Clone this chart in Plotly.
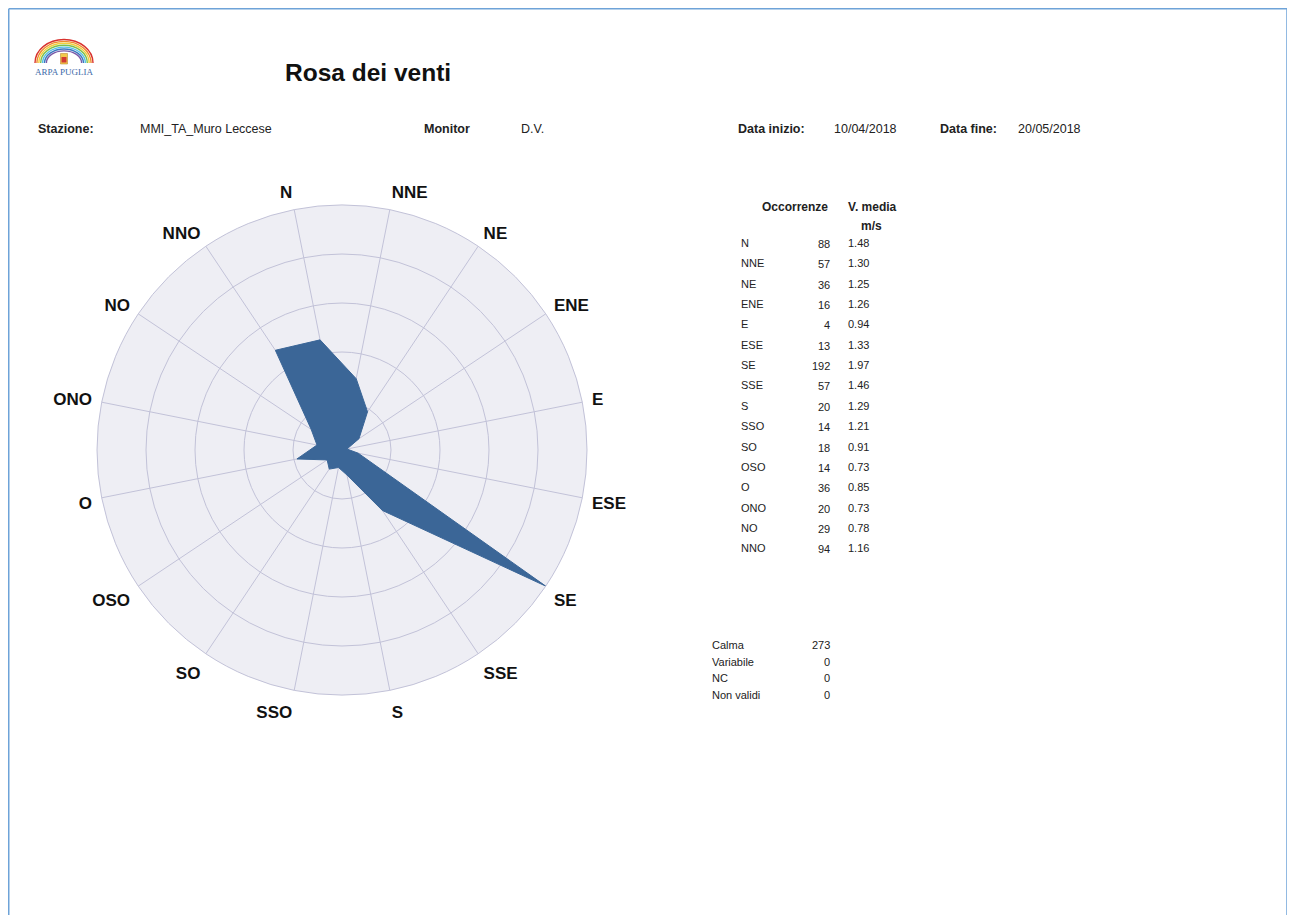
import plotly.graph_objects as go

# figure sits inside the page body (8px default margin)
OFF = 8
W, H = 1287, 907

directions = ["N", "NNE", "NE", "ENE", "E", "ESE", "SE", "SSE",
              "S", "SSO", "SO", "OSO", "O", "ONO", "NO", "NNO"]
occorrenze = [88, 57, 36, 16, 4, 13, 192, 57, 20, 14, 18, 14, 36, 20, 29, 94]
v_media = ["1.48", "1.30", "1.25", "1.26", "0.94", "1.33", "1.97", "1.46",
           "1.29", "1.21", "0.91", "0.73", "0.85", "0.73", "0.78", "1.16"]

extra_labels = ["Calma", "Variabile", "NC", "Non validi"]
extra_values = [273, 0, 0, 0]

header_fields = [("Stazione:", 38, True), ("MMI_TA_Muro Leccese", 140, False),
                 ("Monitor", 424, True), ("D.V.", 521, False),
                 ("Data inizio:", 738, True), ("10/04/2018", 834, False),
                 ("Data fine:", 940, True), ("20/05/2018", 1018, False)]

FONT = "Liberation Sans, Arial, Helvetica, sans-serif"
FILL = "#3b6697"
GRID = "#c2c2d8"
PAD = 2  # annotation inner padding


def px(x):
    return (x - OFF) / W


def py(y):
    return 1 - (y - OFF) / H


fig = go.Figure()

r_vals = occorrenze + occorrenze[:1]
t_vals = directions + directions[:1]
fig.add_trace(go.Scatterpolar(
    r=r_vals, theta=t_vals, mode="lines", fill="toself",
    fillcolor=FILL, line=dict(color=FILL, width=1),
    hoverinfo="skip", showlegend=False))

cx, cy, R = 342, 450, 245
rmax = max(occorrenze)
fig.update_layout(
    width=W, height=H,
    margin=dict(l=0, r=0, t=0, b=0),
    paper_bgcolor="white",
    font=dict(family=FONT, color="#111"),
    polar=dict(
        domain=dict(x=[px(cx - R), px(cx + R)], y=[py(cy + R), py(cy - R)]),
        bgcolor="#eeeef4",
        angularaxis=dict(
            type="category", categoryorder="array", categoryarray=directions,
            direction="clockwise", rotation=101.25,
            showline=True, linecolor=GRID, linewidth=1,
            gridcolor=GRID, gridwidth=1,
            ticks="outside", ticklen=6, tickcolor="rgba(0,0,0,0)",
            tickfont=dict(family=FONT, size=17, color="#111", weight="bold"),
        ),
        radialaxis=dict(
            range=[0, rmax], tickvals=[rmax * k / 5 for k in range(1, 6)],
            showticklabels=False, showline=False, ticks="",
            gridcolor=GRID, gridwidth=1,
        ),
    ),
)

shapes = []
# page border (left, top, right)
border = "#6ea3d8"
shapes.append(dict(type="line", xref="paper", yref="paper", x0=px(8.75), x1=px(8.75), y0=py(8.75), y1=py(930),
                   line=dict(color=border, width=1.5)))
shapes.append(dict(type="line", xref="paper", yref="paper", x0=px(8.75), x1=px(1287), y0=py(8.75), y1=py(8.75),
                   line=dict(color=border, width=1.5)))
shapes.append(dict(type="line", xref="paper", yref="paper", x0=px(1287), x1=px(1287), y0=py(8.75), y1=py(930),
                   line=dict(color=border, width=1.5)))

# logo rainbow (half ellipses built from bezier quarter arcs)
lcx, lcy = 64, 63
rainbow = ["#d8322e", "#ee8a2e", "#f2cf3c", "#7cbf4c", "#55c0e6", "#3a78c0", "#7a5aa8"]
k = 0.5523
for i, col in enumerate(rainbow):
    rx = 29 - i * 1.9
    ry = 23.5 - i * 1.9
    p = (f"M {px(lcx - rx)} {py(lcy)} "
         f"C {px(lcx - rx)} {py(lcy - k * ry)} {px(lcx - k * rx)} {py(lcy - ry)} {px(lcx)} {py(lcy - ry)} "
         f"C {px(lcx + k * rx)} {py(lcy - ry)} {px(lcx + rx)} {py(lcy - k * ry)} {px(lcx + rx)} {py(lcy)}")
    shapes.append(dict(type="path", xref="paper", yref="paper", path=p,
                       line=dict(color=col, width=1.4)))
# shield
shapes.append(dict(type="rect", xref="paper", yref="paper", x0=px(60.5), x1=px(67.5), y0=py(64), y1=py(53.5),
                   fillcolor="#f2c94c", line=dict(color="#b07a1e", width=0.5)))
shapes.append(dict(type="rect", xref="paper", yref="paper", x0=px(61.5), x1=px(66.5), y0=py(62.5), y1=py(57),
                   fillcolor="#d23a33", line=dict(width=0)))
fig.update_layout(shapes=shapes)

ann = []


def text(t, x, y, size=11, bold=False, anchor="left", color="#222", family=FONT):
    if anchor == "left":
        x -= PAD
    elif anchor == "right":
        x += PAD
    ann.append(dict(text=f"<b>{t}</b>" if bold else t, x=px(x), y=py(y), xref="paper", yref="paper",
                    xanchor=anchor, yanchor="middle", showarrow=False,
                    font=dict(size=size, color=color, family=family)))


text("ARPA PUGLIA", 64, 72, size=9, anchor="center", color="#3b69a8",
     family="Liberation Serif, Times New Roman, serif")
text("Rosa dei venti", 285, 73, size=24.5, bold=True, color="#111")
for label, x, bold in header_fields:
    text(label, x, 129, size=12.5, bold=bold, color="#222")

text("Occorrenze", 795, 207, size=12, bold=True, anchor="center")
text("V. media", 872, 207, size=12, bold=True, anchor="center")
text("m/s", 871, 226, size=12, bold=True, anchor="center")
for i, d in enumerate(directions):
    y = 243 + i * 20.35
    text(d, 741, y, size=11)
    text(str(occorrenze[i]), 830, y + 1, size=11, anchor="right")
    text(v_media[i], 848, y, size=11)

for i, lab in enumerate(extra_labels):
    y = 645 + i * 16.7
    text(lab, 712, y, size=11)
    text(str(extra_values[i]), 830, y, size=11, anchor="right")

fig.update_layout(annotations=ann)
fig.write_html("out.html")
